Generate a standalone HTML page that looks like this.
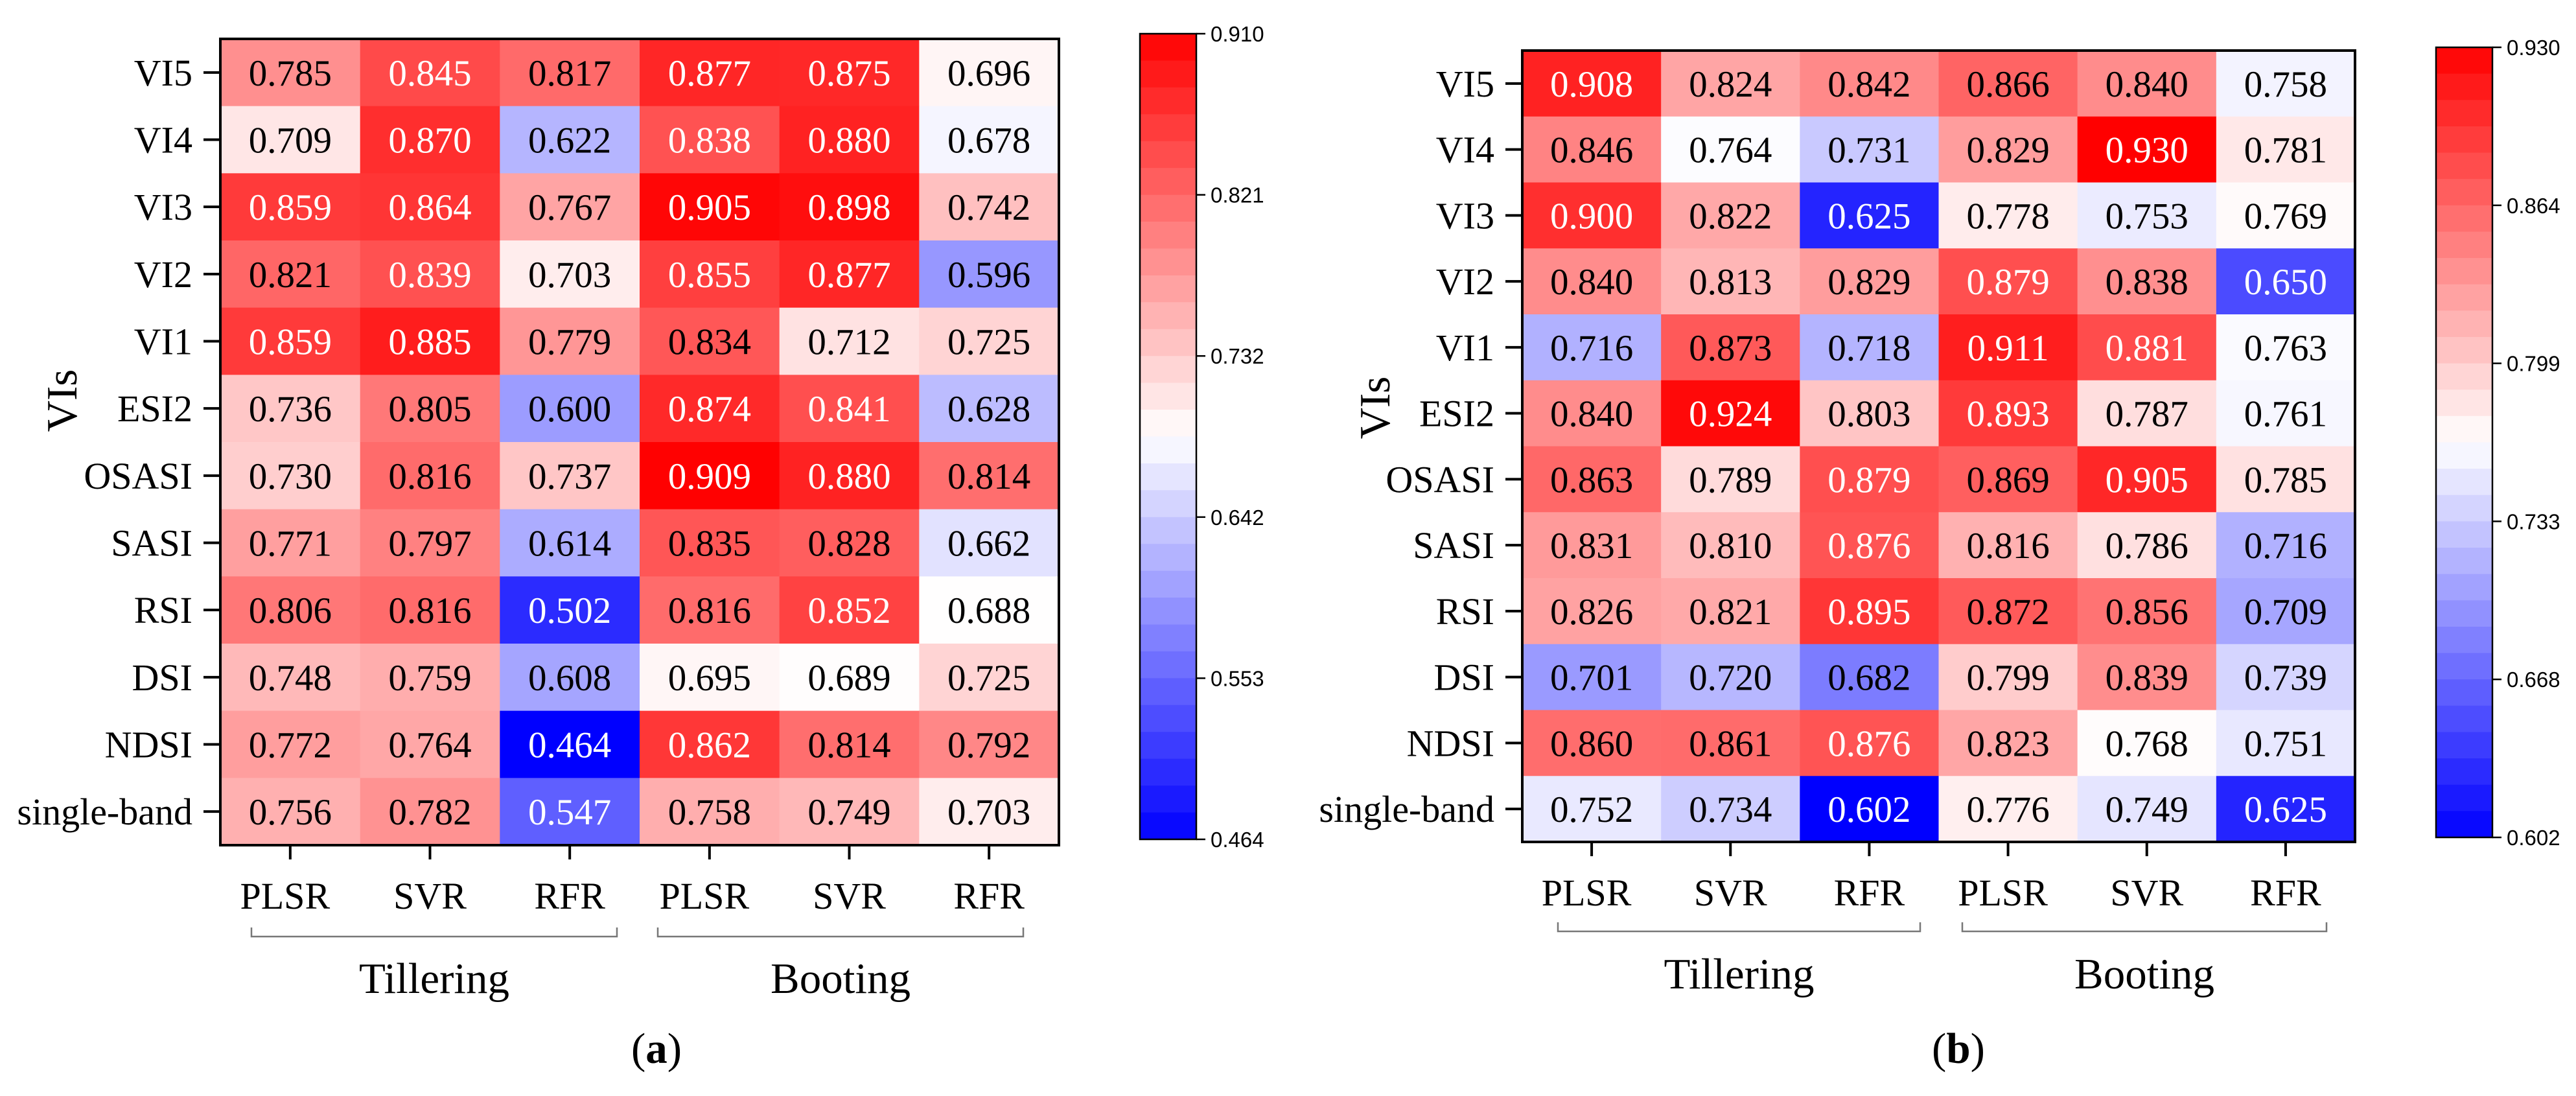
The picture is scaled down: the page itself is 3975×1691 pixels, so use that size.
<!DOCTYPE html>
<html><head><meta charset="utf-8">
<style>
html,body{margin:0;padding:0;background:#fff;}
svg{display:block;}
.serif{font-family:"Liberation Serif",serif;}
.sans{font-family:"Liberation Sans",sans-serif;}
</style></head>
<body>
<svg id="chart" width="3975" height="1691" viewBox="0 0 3975 1691" xmlns="http://www.w3.org/2000/svg"></svg>
<script>
const rowLabels = ["VI5","VI4","VI3","VI2","VI1","ESI2","OSASI","SASI","RSI","DSI","NDSI","single-band"];
const colLabels = ["PLSR","SVR","RFR","PLSR","SVR","RFR"];
const groupLabels = ["Tillering","Booting"];
const valuesA = [
 [0.785,0.845,0.817,0.877,0.875,0.696],
 [0.709,0.870,0.622,0.838,0.880,0.678],
 [0.859,0.864,0.767,0.905,0.898,0.742],
 [0.821,0.839,0.703,0.855,0.877,0.596],
 [0.859,0.885,0.779,0.834,0.712,0.725],
 [0.736,0.805,0.600,0.874,0.841,0.628],
 [0.730,0.816,0.737,0.909,0.880,0.814],
 [0.771,0.797,0.614,0.835,0.828,0.662],
 [0.806,0.816,0.502,0.816,0.852,0.688],
 [0.748,0.759,0.608,0.695,0.689,0.725],
 [0.772,0.764,0.464,0.862,0.814,0.792],
 [0.756,0.782,0.547,0.758,0.749,0.703]
];
const valuesB = [
 [0.908,0.824,0.842,0.866,0.840,0.758],
 [0.846,0.764,0.731,0.829,0.930,0.781],
 [0.900,0.822,0.625,0.778,0.753,0.769],
 [0.840,0.813,0.829,0.879,0.838,0.650],
 [0.716,0.873,0.718,0.911,0.881,0.763],
 [0.840,0.924,0.803,0.893,0.787,0.761],
 [0.863,0.789,0.879,0.869,0.905,0.785],
 [0.831,0.810,0.876,0.816,0.786,0.716],
 [0.826,0.821,0.895,0.872,0.856,0.709],
 [0.701,0.720,0.682,0.799,0.839,0.739],
 [0.860,0.861,0.876,0.823,0.768,0.751],
 [0.752,0.734,0.602,0.776,0.749,0.625]
];
const ticksA = ["0.910","0.821","0.732","0.642","0.553","0.464"];
const ticksB = ["0.930","0.864","0.799","0.733","0.668","0.602"];
const rangeA = [0.464,0.910];
const rangeB = [0.602,0.930];

const NS="http://www.w3.org/2000/svg";
const svg=document.getElementById('chart');
function mk(tag,attrs,parent){const e=document.createElementNS(NS,tag);for(const k in attrs)e.setAttribute(k,attrs[k]);(parent||svg).appendChild(e);return e;}
function bwr(t){t=Math.max(0,Math.min(1,t));let r,g,b;
 if(t<0.5){const s=t/0.5;r=Math.round(255*s);g=r;b=255;}else{const s=(1-t)/0.5;r=255;g=Math.round(255*s);b=g;}
 return `rgb(${r},${g},${b})`;}

function panel(cfg){
 const g=mk('g',{});
 
 
 const nr=rowLabels.length,nc=colLabels.length;
 const cw=(cfg.x1-cfg.x0)/nc,ch=(cfg.y1-cfg.y0)/nr;
 const [vmin,vmax]=cfg.range;
 const xs=j=>cfg.x0+j*cw, ys=i=>cfg.y0+i*ch;
 const tn=v=>(v-vmin)/(vmax-vmin);
 cfg.values.forEach((row,i)=>row.forEach((v,j)=>{
  const r=mk('rect',{x:xs(j),y:ys(i),width:cw+0.6,height:ch+0.6,fill:bwr(tn(v))},g);
  
  
  const t=tn(v);
  const tx=mk('text',{x:xs(j)+cw/2,y:ys(i)+ch/2+20,'text-anchor':'middle','font-size':57,class:'serif',fill:(t>0.835||t<0.2)?'#fff':'#000'},g);
  tx.textContent=v.toFixed(3);
  
  
 }));
 const fr=mk('rect',{x:cfg.x0,y:cfg.y0,width:cfg.x1-cfg.x0,height:cfg.y1-cfg.y0,fill:'none',stroke:'#000','stroke-width':4},g);
 
 
 rowLabels.forEach((l,i)=>{
  const yc=ys(i)+ch/2;
  mk('line',{x1:cfg.x0-26,x2:cfg.x0,y1:yc,y2:yc,stroke:'#000','stroke-width':4},g);
  const t=mk('text',{x:cfg.x0-43,y:yc+20,'text-anchor':'end','font-size':58,class:'serif'},g);
  t.textContent=l;
  
  
 });
 colLabels.forEach((l,j)=>{
  const xc=xs(j)+cw/2;
  mk('line',{x1:xc,x2:xc,y1:cfg.y1,y2:cfg.y1+22,stroke:'#000','stroke-width':4},g);
  const t=mk('text',{x:xc-(j===0||j===3?8:0),y:cfg.y1+98,'text-anchor':'middle','font-size':58,class:'serif'},g);
  t.textContent=l;
  
  
 });
 cfg.brackets.forEach((b,k)=>{
  const p=mk('path',{d:`M${b[0]},${cfg.by} L${b[0]},${cfg.by+14} L${b[1]},${cfg.by+14} L${b[1]},${cfg.by}`,fill:'none',stroke:'#777','stroke-width':2.5},g);
  
  
  const t=mk('text',{x:(b[0]+b[1])/2,y:cfg.gy,'text-anchor':'middle','font-size':67,class:'serif'},g);
  t.textContent=groupLabels[k];
  
  
 });
 const yt=mk('text',{x:0,y:0,'text-anchor':'middle','font-size':67,class:'serif',transform:`translate(${cfg.vx},${cfg.vy}) rotate(-90)`},g);
 yt.textContent='VIs';
 
 
 // colorbar
 const nb=30,bh=(cfg.cy1-cfg.cy0)/nb;
 for(let k=0;k<nb;k++){
  const r=mk('rect',{x:cfg.cx0,y:cfg.cy0+k*bh,width:cfg.cx1-cfg.cx0,height:bh+0.6,fill:bwr(1-(k+0.5)/nb)},g);
  
  
 }
 const cb=mk('rect',{x:cfg.cx0,y:cfg.cy0,width:cfg.cx1-cfg.cx0,height:cfg.cy1-cfg.cy0,fill:'none',stroke:'#000','stroke-width':2.5},g);
 
 
 cfg.ticks.forEach((l,k)=>{
  const y=cfg.cy0+k*(cfg.cy1-cfg.cy0)/(cfg.ticks.length-1);
  mk('line',{x1:cfg.cx1,x2:cfg.cx1+14,y1:y,y2:y,stroke:'#000','stroke-width':2.5},g);
  const t=mk('text',{x:cfg.cx1+22,y:y+12,'font-size':33,class:'sans'},g);
  t.textContent=l;
  
  
 });
 const cap=mk('text',{x:cfg.capx,y:1640,'text-anchor':'middle','font-size':67,class:'serif'},g);
 cap.innerHTML='(<tspan font-weight="bold">'+cfg.letter+'</tspan>)';
 
 
}
panel({name:'panel-a',values:valuesA,range:rangeA,ticks:ticksA,x0:340,x1:1634,y0:60,y1:1304,
 brackets:[[388,952],[1015,1579]],by:1431,gy:1532,vx:118,vy:618,
 cx0:1759,cx1:1846,cy0:52,cy1:1295,capx:1013,letter:'a'});
panel({name:'panel-b',values:valuesB,range:rangeB,ticks:ticksB,x0:2349,x1:3634,y0:78,y1:1299,
 brackets:[[2404,2963],[3028,3590]],by:1423,gy:1525,vx:2144,vy:629,
 cx0:3759,cx1:3846,cy0:73,cy1:1292,capx:3022,letter:'b'});
</script>
</body></html>
